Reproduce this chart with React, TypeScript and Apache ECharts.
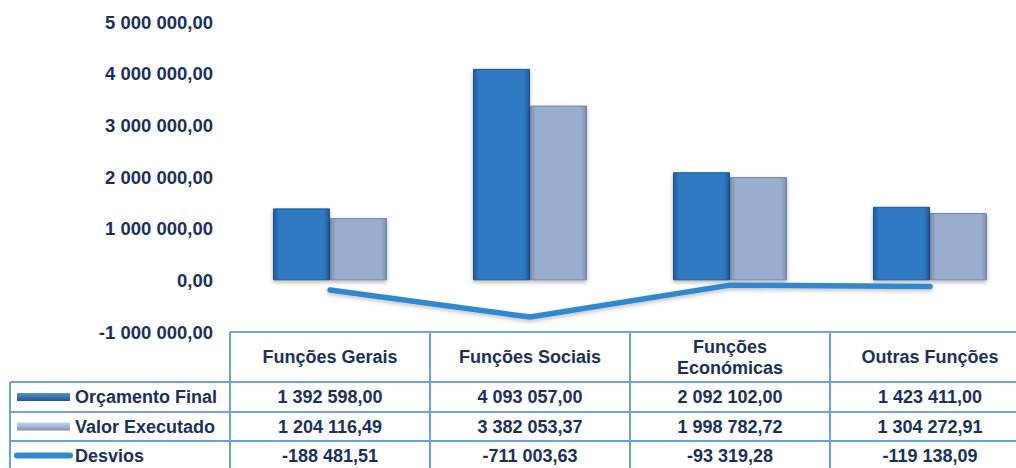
import React, { useEffect, useRef } from "react";
import * as echarts from "echarts";

const categories = ["Funções Gerais", "Funções Sociais", "Funções Económicas", "Outras Funções"];
const headerLabels = [["Funções Gerais"], ["Funções Sociais"], ["Funções", "Económicas"], ["Outras Funções"]];
const seriesNames = ["Orçamento Final", "Valor Executado", "Desvios"];
const orcamentoFinal = [1392598.0, 4093057.0, 2092102.0, 1423411.0];
const valorExecutado = [1204116.49, 3382053.37, 1998782.72, 1304272.91];
const desvios = [-188481.51, -711003.63, -93319.28, -119138.09];
const yMin = -1000000;
const yMax = 5000000;
const yInterval = 1000000;

function fmt(v: number): string {
  const neg = v < 0;
  const s = Math.abs(v).toFixed(2);
  const [ip, dp] = s.split(".");
  const withSp = ip.replace(/\B(?=(\d{3})+(?!\d))/g, " ");
  return (neg ? "-" : "") + withSp + "," + dp;
}

const TEXT = "#1C3159";
const LINE = "#6FA3DD";
const FONT = 'bold 18px "Liberation Sans", Arial, sans-serif';
const CANVAS_W = 1030;

export default function App() {
  const ref = useRef<HTMLDivElement>(null);
  useEffect(() => {
    document.body.style.margin = "0";
    document.body.style.overflow = "hidden";
    const chart = echarts.init(ref.current!, undefined, { renderer: "svg" });
    const gridLeft = 230;
    const catW = 200;
    const gridTop = 22;
    const gridH = 310;
    const tableTop = gridTop + gridH;
    const rowY = [382, 412, 441, 470];
    const colX = [gridLeft, gridLeft + catW, gridLeft + 2 * catW, gridLeft + 3 * catW, gridLeft + 4 * catW];

    const graphics: any[] = [];
    const hl = (x1: number, x2: number, y: number) =>
      graphics.push({ type: "line", shape: { x1, y1: y, x2, y2: y }, style: { stroke: LINE, lineWidth: 2 }, z: 10 });
    const vl = (x: number, y1: number, y2: number) =>
      graphics.push({ type: "line", shape: { x1: x, y1, x2: x, y2 }, style: { stroke: LINE, lineWidth: 2 }, z: 10 });
    const txt = (text: string, x: number, y: number, align: string) =>
      graphics.push({
        type: "text",
        x,
        y,
        style: { text, font: FONT, fill: TEXT, align, textAlign: align, verticalAlign: "middle", textVerticalAlign: "middle" },
        z: 11,
      });

    hl(gridLeft, CANVAS_W, tableTop);
    hl(10, CANVAS_W, rowY[0]);
    hl(10, CANVAS_W, rowY[1]);
    hl(10, CANVAS_W, rowY[2]);
    for (let i = 0; i < 4; i++) vl(colX[i], tableTop, 468);
    vl(10, rowY[0], 468);

    headerLabels.forEach((lines, i) => {
      const cx = colX[i] + catW / 2;
      const cy = (tableTop + rowY[0]) / 2;
      if (lines.length === 1) txt(lines[0], cx, cy, "center");
      else {
        txt(lines[0], cx, cy - 10, "center");
        txt(lines[1], cx, cy + 11, "center");
      }
    });
    const rows = [orcamentoFinal, valorExecutado, desvios];
    rows.forEach((vals, r) => {
      const cy = (rowY[r] + rowY[r + 1]) / 2;
      txt(seriesNames[r], 75, cy, "left");
      vals.forEach((v, i) => txt(fmt(v), colX[i] + catW / 2, cy, "center"));
    });
    // legend keys
    const c0 = (rowY[0] + rowY[1]) / 2;
    const c1 = (rowY[1] + rowY[2]) / 2;
    const c2 = (rowY[2] + rowY[3]) / 2;
    graphics.push({
      type: "rect",
      shape: { x: 17, y: c0 - 4, width: 53, height: 8 },
      style: {
        fill: new echarts.graphic.LinearGradient(0, 0, 0, 1, [
          { offset: 0, color: "#5B8FCB" },
          { offset: 0.5, color: "#3A73B5" },
          { offset: 1, color: "#22558F" },
        ]),
      },
      z: 11,
    });
    graphics.push({
      type: "rect",
      shape: { x: 17, y: c1 - 4, width: 53, height: 8 },
      style: {
        fill: new echarts.graphic.LinearGradient(0, 0, 0, 1, [
          { offset: 0, color: "#C5D2E8" },
          { offset: 0.5, color: "#A4B5D4" },
          { offset: 1, color: "#7D8FB0" },
        ]),
      },
      z: 11,
    });
    graphics.push({
      type: "line",
      shape: { x1: 17, y1: c2, x2: 70, y2: c2 },
      style: { stroke: "#3088D0", lineWidth: 6, lineCap: "round" },
      z: 11,
    });

    const blueFill = new echarts.graphic.LinearGradient(0, 0, 1, 0, [
      { offset: 0, color: "#22599A" },
      { offset: 0.1, color: "#2E79C2" },
      { offset: 0.9, color: "#2E79C2" },
      { offset: 1, color: "#22599A" },
    ]);
    const grayFill = new echarts.graphic.LinearGradient(0, 0, 1, 0, [
      { offset: 0, color: "#7C8EB0" },
      { offset: 0.1, color: "#9BADCF" },
      { offset: 0.9, color: "#9BADCF" },
      { offset: 1, color: "#7C8EB0" },
    ]);

    chart.setOption({
      animation: false,
      backgroundColor: "#FFFFFF",
      grid: { left: gridLeft, top: gridTop, width: catW * 4, height: gridH, containLabel: false },
      xAxis: {
        type: "category",
        data: categories,
        axisLine: { show: false },
        axisTick: { show: false },
        axisLabel: { show: false },
        splitLine: { show: false },
      },
      yAxis: {
        type: "value",
        min: yMin,
        max: yMax,
        interval: yInterval,
        axisLine: { show: false },
        axisTick: { show: false },
        splitLine: { show: false },
        axisLabel: {
          formatter: (v: number) => fmt(v),
          color: TEXT,
          fontWeight: "bold",
          fontSize: 18.5,
          fontFamily: '"Liberation Sans", Arial, sans-serif',
          margin: 17,
        },
      },
      series: [
        {
          name: seriesNames[0],
          type: "bar",
          data: orcamentoFinal,
          barWidth: 57,
          barGap: "0%",
          itemStyle: {
            color: blueFill,
            borderColor: "#1F5590",
            borderWidth: 1,
            shadowBlur: 4,
            shadowColor: "rgba(0,0,0,0.3)",
            shadowOffsetY: 2,
          },
        },
        {
          name: seriesNames[1],
          type: "bar",
          data: valorExecutado,
          barWidth: 57,
          barGap: "0%",
          itemStyle: {
            color: grayFill,
            borderColor: "#76879F",
            borderWidth: 1,
            shadowBlur: 4,
            shadowColor: "rgba(0,0,0,0.3)",
            shadowOffsetY: 2,
          },
        },
        {
          name: seriesNames[2],
          type: "line",
          data: desvios,
          symbol: "none",
          z: 5,
          lineStyle: {
            color: "#3088D0",
            width: 5.5,
            cap: "round",
            join: "round",
            shadowBlur: 4,
            shadowColor: "rgba(0,0,0,0.25)",
            shadowOffsetY: 2,
          },
        },
      ],
      graphic: graphics,
    });
    return () => chart.dispose();
  }, []);
  return (
    <div style={{ width: 1016, height: 468, overflow: "hidden" }}>
      <div ref={ref} style={{ width: CANVAS_W, height: 468 }} />
    </div>
  );
}
